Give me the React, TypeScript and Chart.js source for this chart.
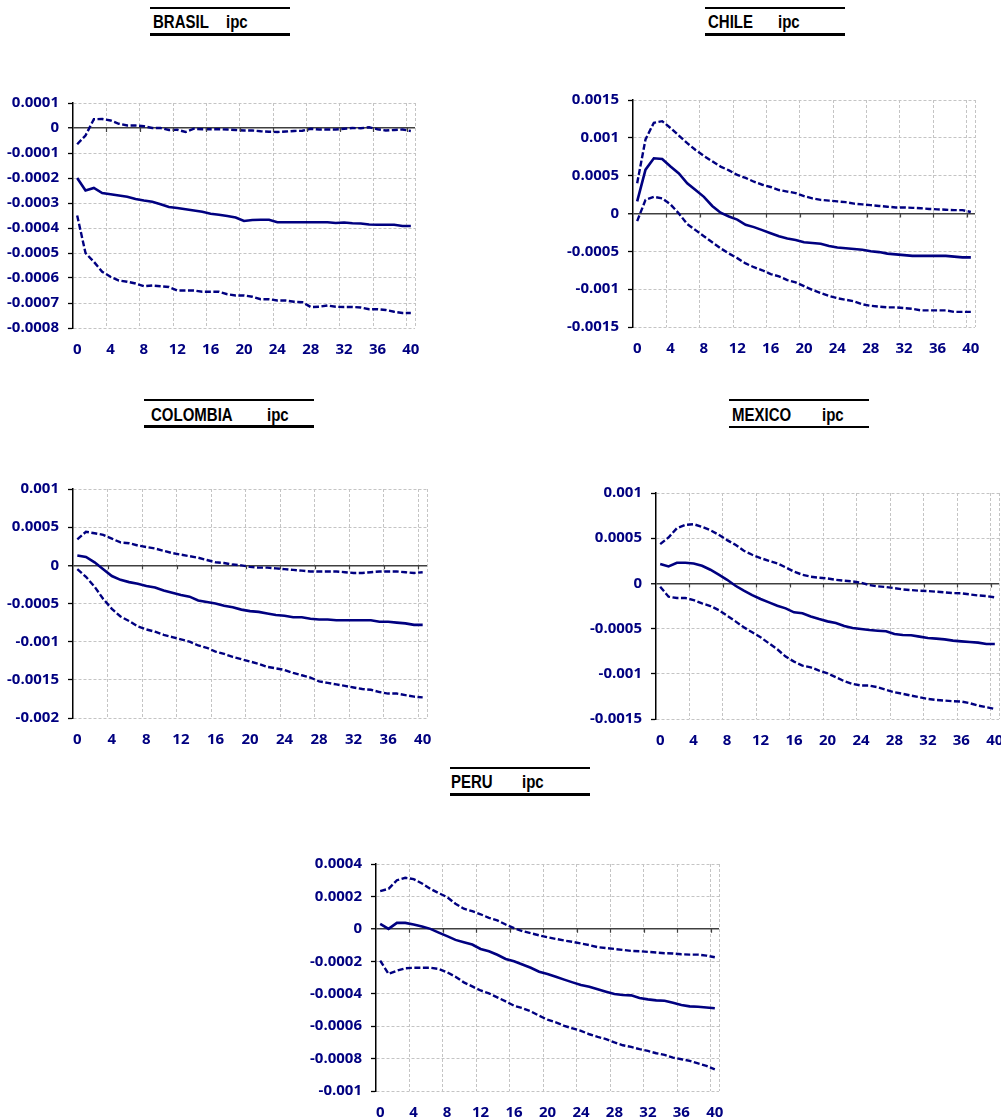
import React, { useEffect, useRef } from "react";
import { Chart, registerables } from "chart.js";
Chart.register(...registerables);

// ---------- DATA ----------
const periods = ["0","1","2","3","4","5","6","7","8","9","10","11","12","13","14","15","16","17","18","19","20","21","22","23","24","25","26","27","28","29","30","31","32","33","34","35","36","37","38","39","40"];

const brasilTicks = [0.0001, 0, -0.0001, -0.0002, -0.0003, -0.0004, -0.0005, -0.0006, -0.0007, -0.0008];
const brasilMid = [-0.0002, -0.00025, -0.00024, -0.00026, -0.000265, -0.00027, -0.000275, -0.000284, -0.00029, -0.000295, -0.000305, -0.000316, -0.00032, -0.000325, -0.00033, -0.000335, -0.000343, -0.000347, -0.000352, -0.000358, -0.000372, -0.000368, -0.000367, -0.000367, -0.000377, -0.000377, -0.000377, -0.000377, -0.000377, -0.000377, -0.000377, -0.00038, -0.000378, -0.000381, -0.000382, -0.000386, -0.000387, -0.000387, -0.000387, -0.000392, -0.000392];
const brasilUpper = [-0.000065, -0.00003, 0.000035, 0.000036, 0.00003, 0.000017, 0.00001, 0.00001, 0.000007, 0, 0, -0.000008, -0.000007, -0.000016, -0.000003, -0.000005, -0.000005, -0.000005, -0.000006, -0.000008, -0.00001, -0.00001, -0.000013, -0.000015, -0.000016, -0.000014, -0.000012, -0.000011, -0.000003, -0.000006, -0.000006, -0.000006, -0.000003, 0, -0.000001, 0.000003, -0.000005, -0.00001, -0.000008, -0.000006, -0.000012];
const brasilLower = [-0.00035, -0.0005, -0.000535, -0.000575, -0.000595, -0.00061, -0.000615, -0.000622, -0.000633, -0.00063, -0.000633, -0.000636, -0.00065, -0.00065, -0.00065, -0.000655, -0.000655, -0.000655, -0.000665, -0.00067, -0.00067, -0.000675, -0.000685, -0.000685, -0.00069, -0.00069, -0.000695, -0.000697, -0.000716, -0.000715, -0.00071, -0.000715, -0.000716, -0.000716, -0.000718, -0.000725, -0.000725, -0.000728, -0.000735, -0.00074, -0.00074];

const chileTicks = [0.0015, 0.001, 0.0005, 0, -0.0005, -0.001, -0.0015];
const chileMid = [0.00016, 0.00058, 0.00073, 0.00072, 0.00062, 0.00053, 0.0004, 0.00031, 0.00022, 0.0001, 0.00001, -0.00004, -0.00008, -0.00015, -0.00018, -0.00022, -0.00026, -0.0003, -0.00033, -0.00035, -0.00038, -0.00039, -0.0004, -0.00043, -0.00045, -0.00046, -0.00047, -0.00048, -0.0005, -0.00051, -0.00053, -0.00054, -0.00055, -0.00056, -0.00056, -0.00056, -0.00056, -0.00056, -0.00057, -0.00058, -0.00058];
const chileUpper = [0.0004, 0.00098, 0.0012, 0.00122, 0.00113, 0.00103, 0.00093, 0.00084, 0.00076, 0.00069, 0.00062, 0.00057, 0.00051, 0.00047, 0.00042, 0.00038, 0.00035, 0.00031, 0.00029, 0.00027, 0.00023, 0.0002, 0.00018, 0.00017, 0.00016, 0.00015, 0.00013, 0.00012, 0.00011, 0.0001, 0.00009, 0.00008, 0.00008, 0.000075, 0.00007, 0.00006, 0.000055, 0.00005, 0.000045, 0.000045, 0.00002];
const chileLower = [-0.0001, 0.00018, 0.00022, 0.0002, 0.00012, 0, -0.00014, -0.00022, -0.0003, -0.00038, -0.00046, -0.00053, -0.00059, -0.00066, -0.00071, -0.00075, -0.0008, -0.00083, -0.00088, -0.00091, -0.00096, -0.00101, -0.00105, -0.00109, -0.00112, -0.00114, -0.00116, -0.0012, -0.00122, -0.00123, -0.00124, -0.00124, -0.00125, -0.00126, -0.00128, -0.00128, -0.00128, -0.00128, -0.0013, -0.0013, -0.0013];

const colombiaTicks = [0.001, 0.0005, 0, -0.0005, -0.001, -0.0015, -0.002];
const colombiaMid = [0.00013, 0.00011, 0.00004, -0.00005, -0.00014, -0.00019, -0.00022, -0.00024, -0.00027, -0.00029, -0.00033, -0.00036, -0.00039, -0.00041, -0.00046, -0.00048, -0.0005, -0.00053, -0.00055, -0.00058, -0.0006, -0.00061, -0.00063, -0.00065, -0.00066, -0.00068, -0.00068, -0.0007, -0.00071, -0.00071, -0.00072, -0.00072, -0.00072, -0.00072, -0.00072, -0.00074, -0.00074, -0.00075, -0.00076, -0.00078, -0.00078];
const colombiaUpper = [0.00034, 0.00044, 0.00042, 0.0004, 0.00035, 0.0003, 0.00029, 0.00026, 0.00024, 0.00022, 0.00019, 0.00016, 0.00014, 0.00012, 0.0001, 0.00007, 0.00004, 0.00003, 0.00001, 0, -0.00002, -0.00003, -0.00003, -0.00004, -0.00005, -0.00006, -0.00007, -0.00008, -0.00008, -0.00008, -0.00008, -0.00009, -0.0001, -0.0001, -0.00009, -0.00008, -0.00008, -0.00008, -0.00009, -0.0001, -0.00009];
const colombiaLower = [-0.00005, -0.00015, -0.00028, -0.00044, -0.00057, -0.00067, -0.00073, -0.0008, -0.00084, -0.00087, -0.00091, -0.00094, -0.00097, -0.001, -0.00105, -0.00108, -0.00113, -0.00116, -0.0012, -0.00123, -0.00126, -0.00129, -0.00133, -0.00135, -0.00137, -0.00141, -0.00144, -0.00147, -0.00152, -0.00154, -0.00156, -0.00158, -0.0016, -0.00162, -0.00163, -0.00166, -0.00168, -0.00168, -0.0017, -0.00172, -0.00173];

const mexicoTicks = [0.001, 0.0005, 0, -0.0005, -0.001, -0.0015];
const mexicoMid = [0.000214, 0.000188, 0.000228, 0.000228, 0.000221, 0.000195, 0.000151, 0.000096, 0.00004, -0.000026, -0.000081, -0.000129, -0.000173, -0.00021, -0.000247, -0.000276, -0.00032, -0.000331, -0.000365, -0.000394, -0.00042, -0.000438, -0.000471, -0.000493, -0.000504, -0.000515, -0.000523, -0.00053, -0.00056, -0.00057, -0.000574, -0.000589, -0.000604, -0.000611, -0.000619, -0.000633, -0.000641, -0.000648, -0.000655, -0.00067, -0.00067];
const mexicoUpper = [0.000434, 0.000508, 0.000611, 0.000648, 0.000655, 0.000626, 0.000589, 0.000538, 0.000479, 0.000427, 0.000361, 0.000317, 0.00028, 0.00025, 0.000221, 0.000177, 0.000129, 0.000096, 0.000074, 0.000063, 0.000055, 0.00004, 0.00003, 0.000022, 0.000007, -0.000018, -0.000033, -0.00004, -0.000052, -0.000066, -0.000074, -0.000081, -0.000085, -0.000092, -0.000099, -0.000107, -0.00011, -0.000122, -0.000133, -0.00014, -0.000155];
const mexicoLower = [-0.000037, -0.000147, -0.000162, -0.000162, -0.000184, -0.000221, -0.00025, -0.000295, -0.000357, -0.00042, -0.000486, -0.000541, -0.000596, -0.000663, -0.000729, -0.00081, -0.000865, -0.000909, -0.000928, -0.000965, -0.000994, -0.001038, -0.001082, -0.001112, -0.00113, -0.00113, -0.001149, -0.001178, -0.001204, -0.001222, -0.001241, -0.001259, -0.001278, -0.001289, -0.001296, -0.001303, -0.001307, -0.001325, -0.001351, -0.00137, -0.001388];

const peruTicks = [0.0004, 0.0002, 0, -0.0002, -0.0004, -0.0006, -0.0008, -0.001];
const peruMid = [0.00003, 0, 0.000037, 0.000037, 0.000027, 0.000014, 0, -0.000023, -0.000045, -0.000068, -0.000082, -0.000097, -0.000124, -0.000138, -0.00016, -0.000186, -0.0002, -0.00022, -0.00024, -0.000264, -0.000278, -0.000295, -0.000313, -0.00033, -0.000346, -0.000357, -0.000373, -0.000388, -0.000402, -0.000408, -0.00041, -0.000427, -0.000435, -0.000441, -0.000443, -0.000456, -0.00047, -0.000478, -0.00048, -0.000485, -0.00049];
const peruUpper = [0.000233, 0.000247, 0.0003, 0.000315, 0.000307, 0.00028, 0.000247, 0.00022, 0.000196, 0.000155, 0.000124, 0.000109, 0.00009, 0.000068, 0.000052, 0.000027, 0.000004, -0.000014, -0.000027, -0.00004, -0.000052, -0.000062, -0.000072, -0.00008, -0.00009, -0.0001, -0.000113, -0.000118, -0.000124, -0.00013, -0.000136, -0.000138, -0.000142, -0.000146, -0.00015, -0.000152, -0.000157, -0.000159, -0.000159, -0.000165, -0.000175];
const peruLower = [-0.000196, -0.000278, -0.000258, -0.000243, -0.00024, -0.00024, -0.00024, -0.000247, -0.000268, -0.000295, -0.00033, -0.000355, -0.00038, -0.000398, -0.000423, -0.000447, -0.000474, -0.000489, -0.000509, -0.000536, -0.00056, -0.000577, -0.000598, -0.000614, -0.000629, -0.00065, -0.000666, -0.00068, -0.0007, -0.000718, -0.000728, -0.000742, -0.000753, -0.000767, -0.000777, -0.000794, -0.000804, -0.000814, -0.00083, -0.000845, -0.000866];

// ---------- LAYOUT ----------
type PanelSpec = {
  name: string;
  ticks: number[];
  mid: number[];
  upper: number[];
  lower: number[];
  L: number; T: number; R: number; B: number;
  boxX: number; boxW: number; lineTop: number; lineBottom: number;
  nameX: number; ipcX: number; baseline: number;
};

const panels: PanelSpec[] = [
  { name: "BRASIL", ticks: brasilTicks, mid: brasilMid, upper: brasilUpper, lower: brasilLower,
    L: 73, T: 103, R: 415, B: 328, boxX: 150, boxW: 140, lineTop: 7, lineBottom: 33, nameX: 153, ipcX: 226, baseline: 28 },
  { name: "CHILE", ticks: chileTicks, mid: chileMid, upper: chileUpper, lower: chileLower,
    L: 633, T: 100, R: 975, B: 327, boxX: 705, boxW: 140, lineTop: 7, lineBottom: 33, nameX: 708, ipcX: 778, baseline: 28 },
  { name: "COLOMBIA", ticks: colombiaTicks, mid: colombiaMid, upper: colombiaUpper, lower: colombiaLower,
    L: 73, T: 489, R: 427, B: 718, boxX: 144, boxW: 170, lineTop: 399, lineBottom: 425, nameX: 151, ipcX: 267, baseline: 420.5 },
  { name: "MEXICO", ticks: mexicoTicks, mid: mexicoMid, upper: mexicoUpper, lower: mexicoLower,
    L: 656, T: 493, R: 999, B: 719, boxX: 729, boxW: 140, lineTop: 399, lineBottom: 425.5, nameX: 732, ipcX: 822, baseline: 420.5 },
  { name: "PERU", ticks: peruTicks, mid: peruMid, upper: peruUpper, lower: peruLower,
    L: 376, T: 864, R: 719, B: 1091, boxX: 450, boxW: 140, lineTop: 767, lineBottom: 793, nameX: 451, ipcX: 522, baseline: 788 },
];

const Y_W = 72;
const PAD_T = 10;
const PAD_R = 12;
const X_H = 32;
const NAVY = "#000080";
const GRID = "#c4c4c4";
const tickFont = { family: "'Open Sans', Lato, sans-serif", weight: "bold" as const, size: 15, lineHeight: "16px" };

const zeroTicksPlugin = {
  id: "zeroTicks",
  afterDatasetsDraw(chart: any) {
    const xs = chart.scales.x;
    const ys = chart.scales.y;
    const y0 = ys.getPixelForValue(0);
    const half = (xs.getPixelForTick(1) - xs.getPixelForTick(0)) / 2;
    const ctx = chart.ctx;
    ctx.save();
    ctx.strokeStyle = "#404040";
    ctx.lineWidth = 1.2;
    ctx.beginPath();
    for (let i = 4; i < periods.length; i += 4) {
      const x = Math.round(xs.getPixelForTick(i) - half) + 0.5;
      ctx.moveTo(x, y0);
      ctx.lineTo(x, y0 + 4);
    }
    ctx.stroke();
    ctx.restore();
  },
};

function PanelChart({ p }: { p: PanelSpec }) {
  const ref = useRef<HTMLCanvasElement>(null);
  const w = Y_W + (p.R - p.L) + PAD_R;
  const h = PAD_T + (p.B - p.T) + X_H;

  useEffect(() => {
    const yMax = Math.max(...p.ticks);
    const yMin = Math.min(...p.ticks);
    const chart = new Chart(ref.current!, {
      type: "line",
      data: {
        labels: periods,
        datasets: [
          { data: p.lower, borderColor: NAVY, borderWidth: 2.4, borderDash: [6, 2.5], pointRadius: 0, fill: false, tension: 0 },
          { data: p.upper, borderColor: NAVY, borderWidth: 2.4, borderDash: [6, 2.5], pointRadius: 0, fill: false, tension: 0 },
          { data: p.mid, borderColor: NAVY, borderWidth: 2.6, pointRadius: 0, fill: false, tension: 0 },
        ],
      },
      options: {
        responsive: false,
        animation: false,
        devicePixelRatio: 1,
        events: [],
        layout: { padding: { top: PAD_T, right: PAD_R, left: 0, bottom: 0 } },
        plugins: { legend: { display: false }, tooltip: { enabled: false } },
        scales: {
          x: {
            type: "category",
            offset: true,
            grid: {
              offset: true,
              drawTicks: false,
              lineWidth: 1,
              color: (c: any) => (c.index === undefined || (c.index % 4 === 0 && c.index > 0) ? GRID : "rgba(0,0,0,0)"),
            },
            border: { display: false, dash: [3, 2] },
            ticks: {
              autoSkip: false,
              maxRotation: 0,
              minRotation: 0,
              padding: 14,
              color: NAVY,
              font: tickFont,
              callback: (_v: any, i: number) => (i % 4 === 0 ? periods[i] : ""),
            },
            afterFit: (s: any) => { s.height = X_H; s.paddingLeft = 0; s.paddingRight = 0; },
          },
          y: {
            type: "linear",
            min: yMin,
            max: yMax,
            afterBuildTicks: (s: any) => { s.ticks = p.ticks.map((value) => ({ value })); },
            grid: {
              color: (c: any) => (c.tick && c.tick.value === 0 ? "#404040" : GRID),
              lineWidth: (c: any) => (c.tick && c.tick.value === 0 ? 1.5 : 1),
              tickLength: 5,
              tickColor: "#000",
              tickWidth: 1.3,
            },
            border: {
              display: true,
              color: "#000",
              width: 1.5,
              dash: (c: any) => (c.tick && c.tick.value === 0 ? [] : [3, 2]),
            },
            ticks: {
              padding: 9,
              color: NAVY,
              font: tickFont,
              callback: (v: any) => String(v),
            },
            afterFit: (s: any) => { s.width = Y_W; s.paddingTop = 0; s.paddingBottom = 0; },
          },
        },
      },
      plugins: [zeroTicksPlugin],
    } as any);
    return () => chart.destroy();
  }, []);

  return (
    <canvas
      ref={ref}
      width={w}
      height={h}
      style={{ position: "absolute", left: p.L - Y_W, top: p.T - PAD_T, width: w, height: h }}
    />
  );
}

function Title({ p }: { p: PanelSpec }) {
  const textStyle: React.CSSProperties = {
    position: "absolute",
    top: p.baseline - 12.7,
    fontFamily: "'Liberation Sans', Arial, sans-serif",
    fontWeight: "bold",
    fontSize: 15,
    lineHeight: "15px",
    transform: "scaleY(1.17)",
    transformOrigin: "0 12.7px",
    whiteSpace: "nowrap",
    color: "#000",
  };
  return (
    <>
      <div style={{ position: "absolute", left: p.boxX, top: p.lineTop, width: p.boxW, height: 2, background: "#000" }} />
      <div style={{ position: "absolute", left: p.boxX, top: p.lineBottom, width: p.boxW, height: 2.5, background: "#000" }} />
      <span style={{ ...textStyle, left: p.nameX }}>{p.name}</span>
      <span style={{ ...textStyle, left: p.ipcX }}>ipc</span>
    </>
  );
}

export default function App() {
  return (
    <div style={{ position: "absolute", left: 0, top: 0, width: 1001, height: 1119, overflow: "hidden", background: "#fff" }}>
      {panels.map((p) => (
        <React.Fragment key={p.name}>
          <Title p={p} />
          <PanelChart p={p} />
        </React.Fragment>
      ))}
    </div>
  );
}
